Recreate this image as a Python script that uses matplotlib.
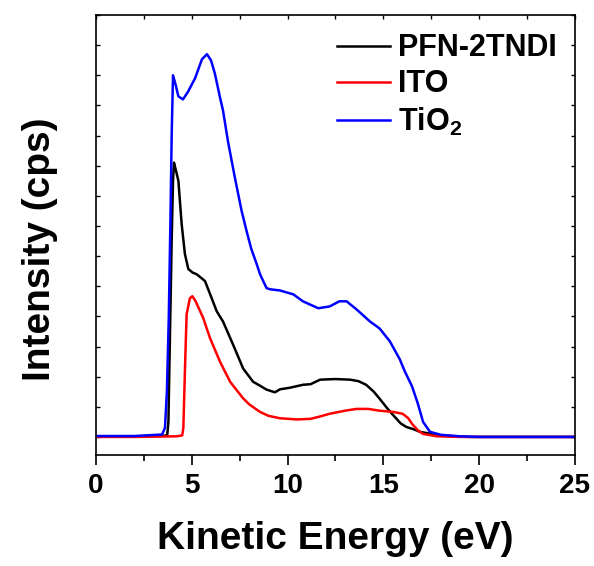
import matplotlib
matplotlib.use('Agg')
import matplotlib.pyplot as plt
import numpy as np

plt.rcParams['font.family'] = ['Liberation Sans', 'DejaVu Sans']
plt.rcParams['font.weight'] = 'bold'
plt.rcParams['mathtext.fontset'] = 'custom'
plt.rcParams['mathtext.rm'] = 'Liberation Sans:bold'
plt.rcParams['mathtext.bf'] = 'Liberation Sans:bold'

# kinetic energy (eV) / intensity (arb. units)
x_pfn = [0, 2, 3.6, 3.72, 3.78, 3.85, 3.95, 4.02, 4.07, 4.15, 4.3, 4.47, 4.64, 4.82, 5.05,
         5.25, 5.58, 5.69, 6.04, 6.3, 6.63, 7.15, 7.68, 8.2, 8.56, 8.9, 9.34, 9.6, 10.1,
         10.8, 11.2, 11.7, 12.5, 13.26, 13.7, 14.1, 14.5, 14.8, 15.2, 15.5, 15.9, 16.2,
         16.6, 16.9, 17.5, 18.0, 19.5, 25]
y_pfn = [0.02, 0.02, 0.04, 0.07, 0.5, 3.0, 6.5, 8.5, 9.1, 8.9, 8.5, 7.07, 6.07, 5.57, 5.45,
         5.4, 5.23, 5.17, 4.6, 4.17, 3.83, 3.07, 2.27, 1.83, 1.7, 1.57, 1.48, 1.58, 1.63,
         1.73, 1.75, 1.9, 1.92, 1.9, 1.85, 1.73, 1.5, 1.27, 0.95, 0.73, 0.45, 0.33,
         0.25, 0.17, 0.1, 0.05, 0.0, 0.0]

x_ito = [0, 2, 4.2, 4.5, 4.56, 4.64, 4.73, 4.9, 5.03, 5.2, 5.6, 5.95, 6.47, 7.0, 7.68,
         8.0, 8.56, 9.0, 9.6, 10.5, 11.2, 11.7, 12.2, 13.0, 13.6, 14.2, 14.8, 15.5, 16.0,
         16.3, 16.5, 16.8, 17.07, 17.8, 19, 25]
y_ito = [0.0, 0.0, 0.02, 0.05, 0.3, 2.17, 4.07, 4.6, 4.67, 4.5, 3.94, 3.28, 2.5, 1.83, 1.28,
         1.08, 0.83, 0.7, 0.62, 0.58, 0.6, 0.68, 0.77, 0.87, 0.93, 0.93, 0.87, 0.83, 0.77,
         0.62, 0.43, 0.22, 0.1, 0.02, 0.0, 0.0]

x_tio2 = [0, 2, 3.45, 3.6, 3.7, 3.8, 3.88, 3.95, 4.02, 4.15, 4.3, 4.54, 4.8, 5.17, 5.53,
          5.79, 6.0, 6.2, 6.47, 6.63, 6.89, 7.25, 7.6, 7.86, 8.1, 8.39, 8.56, 8.9, 9.08,
          9.6, 10.3, 10.8, 11.6, 12.2, 12.7, 13.08, 13.6, 14.3, 14.8, 15.34, 15.86, 16.1,
          16.5, 16.8, 17.07, 17.43, 18.0, 19.0, 20, 25]
y_tio2 = [0.03, 0.03, 0.08, 0.3, 1.5, 4.0, 7.0, 10.0, 12.0, 11.7, 11.3, 11.2, 11.45, 11.9, 12.53,
          12.7, 12.5, 12.07, 11.27, 10.83, 9.8, 8.6, 7.5, 6.83, 6.25, 5.73, 5.4, 4.94, 4.9,
          4.86, 4.73, 4.5, 4.27, 4.33, 4.5, 4.5, 4.23, 3.83, 3.6, 3.17, 2.57, 2.2,
          1.67, 1.1, 0.5, 0.17, 0.07, 0.02, 0.0, 0.0]

xmajor = [0, 5, 10, 15, 20, 25]
xminor = [2.5, 7.5, 12.5, 17.5, 22.5]

fig = plt.figure(figsize=(5.94, 5.66), dpi=100)
ax = fig.add_axes([0.1616, 0.1961, 0.8064, 0.7774])

ax.plot(x_pfn, y_pfn, color='black', lw=1.8, label='PFN-2TNDI')
ax.plot(x_ito, y_ito, color='#ff0000', lw=1.8, label='ITO')
ax.plot(x_tio2, y_tio2, color='#0000ff', lw=1.8, label=r'TiO$_{\mathbf{2}}$')

ax.set_xlim(0, 25)
ax.set_ylim(-0.6, 14)
ax.set_xticks(xmajor)
ax.set_xticks(xminor, minor=True)
ax.set_yticks(np.arange(0, 15, 1))
ax.set_yticklabels([])

for s in ax.spines.values():
    s.set_linewidth(1.2)
ax.tick_params(axis='x', which='major', direction='out', length=7, width=1.2,
               labelsize=20, pad=6)
ax.tick_params(axis='x', which='minor', direction='out', length=4, width=1.2)
ax.tick_params(axis='y', which='major', direction='in', length=3, width=1.0, right=True)

# inward ticks along the top edge
top = ax.secondary_xaxis('top')
top.set_xticks(xmajor)
top.set_xticks(xminor, minor=True)
top.set_xticklabels([])
top.tick_params(axis='x', which='both', direction='in', length=3, width=1.0)
top.spines['top'].set_visible(False)

ax.set_xlabel('Kinetic Energy (eV)', fontsize=28, fontweight='bold', labelpad=16)
ax.set_ylabel('Intensity (cps)', fontsize=28, fontweight='bold')
ax.yaxis.set_label_coords(-0.08, 0.468)

ax.legend(loc='upper right', frameon=False, handlelength=1.75,
          handletextpad=0.25, labelspacing=0.2, borderaxespad=0.2,
          prop={'weight': 'bold', 'size': 22})

fig.savefig('out.png', dpi=100)
